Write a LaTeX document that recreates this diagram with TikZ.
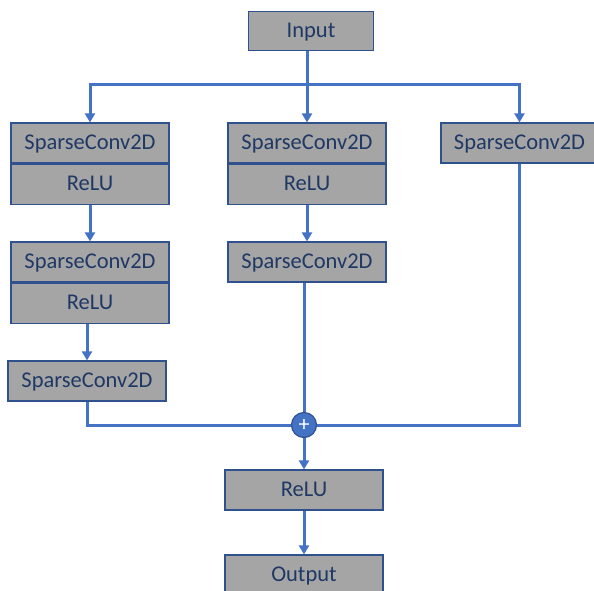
\documentclass[tikz,border=0pt]{standalone}
\usepackage{fontspec}
\setmainfont{Carlito}
\usetikzlibrary{arrows.meta, positioning}

\definecolor{boxgray}{HTML}{A5A5A5}
\definecolor{boxedge}{HTML}{2F528F}
\definecolor{linkblue}{HTML}{4472C4}
\definecolor{textnavy}{HTML}{1F3864}

\begin{document}
\begin{tikzpicture}[
        x=1pt, y=-1pt,
        layer/.style={
            rectangle, draw=boxedge, line width=1.2pt, fill=boxgray,
            minimum width=158pt, minimum height=40pt, inner sep=0pt,
            text=textnavy, font=\fontsize{22.5}{26}\selectfont,
            text depth=2pt
        },
        iolayer/.style={layer, minimum width=125pt, minimum height=39pt},
        addnode/.style={
            circle, draw=boxedge, line width=1.2pt, fill=linkblue,
            minimum size=25pt, inner sep=0pt, text=white,
            font=\fontsize{22}{22}\selectfont
        },
        link/.style={draw=linkblue, line width=3pt},
        arrow/.style={link, -{Triangle[length=9pt, width=10pt]}}
    ]
    \useasboundingbox (0,0) rectangle (594,590);

    % INPUT
    \node[iolayer] (input) at (311,31) {Input};
    \coordinate (split) at (307,84);

    % LEFT BRANCH
    \node[layer] (conva1) at (90,143) {SparseConv2D};
    \node[layer, below=0pt of conva1] (relua1) {ReLU};
    \node[layer] (conva2) at (90,262) {SparseConv2D};
    \node[layer, below=0pt of conva2] (relua2) {ReLU};
    \node[layer] (conva3) at (87,381) {SparseConv2D};

    % MIDDLE BRANCH
    \node[layer] (convb1) at (307,143) {SparseConv2D};
    \node[layer, below=0pt of convb1] (relub1) {ReLU};
    \node[layer] (convb2) at (307,262) {SparseConv2D};

    % RIGHT BRANCH
    \node[layer, minimum width=157pt] (convc) at (519.5,143) {SparseConv2D};

    % SUM AND OUTPUT
    \node[addnode] (add) at (304,425) {+};
    \node[layer] (relu) at (304,490) {ReLU};
    \node[layer] (output) at (304,575) {Output};

    % ARROWS
    \draw[arrow] (input.south -| split) -- (convb1.north);
    \draw[arrow] (split) -| (conva1.north);
    \draw[arrow] (split) -| (convc.north);
    \draw[arrow] (relua1) -- (conva2);
    \draw[arrow] (relua2.south -| conva3.north) -- (conva3.north);
    \draw[arrow] (relub1) -- (convb2);
    \draw[link] (convb2.south -| add.north) -- (add.north);
    \draw[link] (conva3.south) |- (add.west);
    \draw[link] (convc.south) |- (add.east);
    \draw[arrow] (add) -- (relu);
    \draw[arrow] (relu) -- (output);

\end{tikzpicture}
\end{document}
